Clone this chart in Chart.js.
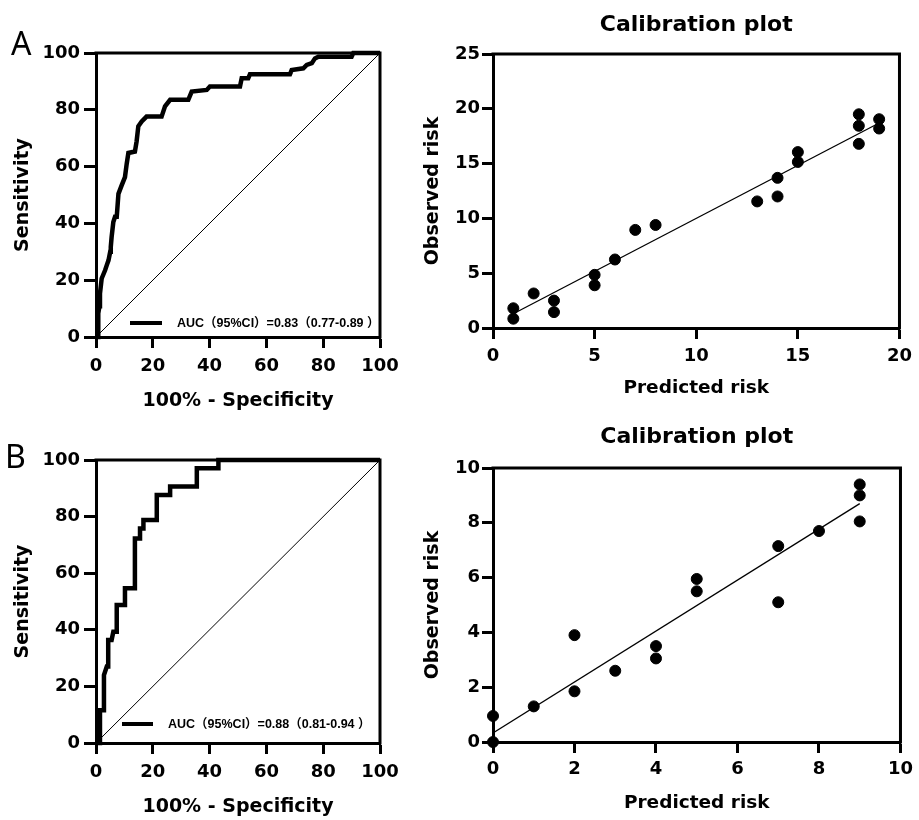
<!DOCTYPE html>
<html>
<head>
<meta charset="utf-8">
<title>ROC and calibration plots</title>
<script src="https://cdn.jsdelivr.net/npm/chart.js@4.4.0/dist/chart.umd.min.js"></script>
<style>
  body { margin: 0; background: #fff; }
  #fig { position: relative; width: 919px; height: 820px; overflow: hidden; background: #fff; }
  .box { position: absolute; }
  .tag { position: absolute; font-family: "Noto Sans", sans-serif; font-size: 32px; line-height: 1; color: #000; }
</style>
</head>
<body>
<div id="fig">
  <div class="box" style="left:0;top:0;width:410px;height:415px"><canvas id="rocA"></canvas></div>
  <div class="box" style="left:410px;top:0;width:509px;height:415px"><canvas id="calA"></canvas></div>
  <div class="box" style="left:0;top:415px;width:410px;height:405px"><canvas id="rocB"></canvas></div>
  <div class="box" style="left:410px;top:415px;width:509px;height:405px"><canvas id="calB"></canvas></div>
  <div class="tag" style="left:11px;top:27px">A</div>
  <div class="tag" style="left:5px;top:440px">B</div>
</div>
<script>
// ROC curves (100% - specificity vs sensitivity)
const rocTicks = [0, 20, 40, 60, 80, 100];
const diagonal = [0, 100];

const rocA_label = "AUC（95%CI）=0.83（0.77-0.89 ）";
const rocA_fpr = [0, 0.8, 0.8, 1.2, 1.4, 2.0, 3.2, 3.8, 4.4, 5.0, 5.2, 5.5, 6.1, 6.7, 7.3, 7.9, 9.0, 10.2, 10.8, 11.4,
  13.7, 14.3, 14.9, 16.1, 17.8, 23.1, 24.3, 26.1, 32.5, 33.7, 39.0, 40.1, 50.7, 51.3, 53.6, 54.2, 68.3, 68.9,
  73.0, 74.2, 76.0, 77.1, 78.3, 90.0, 90.6, 100];
const rocA_tpr = [0, 0, 8.3, 10.8, 15.3, 20.6, 23.5, 25.3, 27.0, 30.0, 31.7, 35.2, 40.5, 42.3, 42.3, 50.4, 53.3, 56.3, 60.9, 64.8,
  65.3, 68.9, 74.2, 75.9, 77.6, 77.6, 81.2, 83.5, 83.5, 86.4, 87.0, 88.2, 88.2, 91.1, 91.1, 92.5, 92.5, 94.0,
  94.6, 95.8, 96.4, 98.1, 98.7, 98.7, 100, 100];

const rocB_label = "AUC（95%CI）=0.88（0.81-0.94 ）";
const rocB_fpr = [0, 1.4, 1.4, 2.8, 2.8, 3.8, 4.3, 4.3, 5.5, 6.1, 7.3, 7.3, 10.2, 10.2, 13.7, 13.7, 15.5, 15.5,
  16.7, 16.7, 21.4, 21.4, 26.1, 26.1, 35.5, 35.5, 43.1, 43.1, 100];
const rocB_tpr = [0, 0, 11.6, 11.6, 24.0, 27.0, 27.0, 36.4, 36.4, 39.3, 39.3, 48.8, 48.8, 54.7, 54.7, 72.3, 72.3, 75.8,
  75.8, 78.8, 78.8, 87.6, 87.6, 90.6, 90.6, 97.1, 97.1, 100, 100];

// calibration, training set
const calA_pred = [1, 1, 2, 3, 3, 5, 5, 6, 7, 8, 13, 14, 14, 15, 15, 18, 18, 18, 19, 19];
const calA_obs = [1.8, 0.85, 3.15, 2.5, 1.45, 4.85, 3.9, 6.25, 8.95, 9.4, 11.55, 13.7, 12.0, 16.05, 15.15, 19.5, 18.45, 16.8, 19.05, 18.2];
const calA_fitX = [1, 19];
const calA_fitY = [1.3, 18.7];
const calA_xTicks = [0, 5, 10, 15, 20];
const calA_yTicks = [0, 5, 10, 15, 20, 25];

// calibration, validation set
const calB_pred = [0, 0, 1, 2, 2, 3, 4, 4, 5, 5, 7, 7, 8, 9, 9, 9];
const calB_obs = [0.95, 0, 1.3, 3.9, 1.85, 2.6, 3.5, 3.05, 5.95, 5.5, 7.15, 5.1, 7.7, 9.4, 9.0, 8.05];
const calB_fitX = [0, 9];
const calB_fitY = [0.33, 8.7];
const calB_xTicks = [0, 2, 4, 6, 8, 10];
const calB_yTicks = [0, 2, 4, 6, 8, 10];

Chart.defaults.font.family = "'DejaVu Sans', 'Liberation Sans', sans-serif";
Chart.defaults.font.weight = "bold";
Chart.defaults.color = "#000";

const pts = (xs, ys) => xs.map((x, i) => ({ x: x, y: ys[i] }));

function axis(ticks, o) {
  return {
    type: "linear",
    min: ticks[0],
    max: ticks[ticks.length - 1],
    afterBuildTicks: (s) => { s.ticks = ticks.map((v) => ({ value: v })); },
    afterFit: (s) => { if (s.isHorizontal()) s.height = o.size; else s.width = o.size; },
    grid: { display: true, drawOnChartArea: false, drawTicks: true, tickLength: o.tickLength, tickWidth: 3, tickColor: "#000" },
    border: { display: true, color: "#000", width: 3 },
    ticks: { color: "#000", padding: o.pad, font: { size: o.font, weight: "bold" } },
    title: { display: true, text: o.title, color: "#000", font: { size: o.titleSize, weight: "bold" }, padding: o.titlePad },
  };
}

// top and right edges of the box
const frame = {
  id: "frame",
  beforeDatasetsDraw(chart) {
    const { ctx, chartArea: a } = chart;
    ctx.save();
    ctx.strokeStyle = "#000";
    ctx.lineWidth = 3;
    ctx.beginPath();
    ctx.moveTo(a.left - 1.5, a.top);
    ctx.lineTo(a.right, a.top);
    ctx.lineTo(a.right, a.bottom + 1.5);
    ctx.stroke();
    ctx.restore();
  },
};

// legend drawn inside the plot, bottom right
const rocLegend = {
  id: "rocLegend",
  afterDatasetsDraw(chart, args, o) {
    const { ctx, chartArea: a } = chart;
    const ds = chart.data.datasets[0];
    const y = a.bottom - o.dy;
    ctx.save();
    ctx.strokeStyle = ds.borderColor;
    ctx.lineWidth = 4;
    ctx.beginPath();
    ctx.moveTo(a.left + o.x0, y);
    ctx.lineTo(a.left + o.x1, y);
    ctx.stroke();
    ctx.fillStyle = "#000";
    ctx.font = 'bold 12.5px "Liberation Sans", Arial, "Noto Sans CJK SC", sans-serif';
    ctx.textBaseline = "middle";
    ctx.fillText(ds.label, a.left + o.tx, y + 1);
    ctx.restore();
  },
};

function rocChart(id, label, fpr, tpr, lay) {
  new Chart(document.getElementById(id), {
    type: "scatter",
    data: {
      datasets: [
        { label: label, data: pts(fpr, tpr), showLine: true, borderColor: "#000", borderWidth: 4.5,
          pointRadius: 0, tension: 0, clip: false, borderJoinStyle: "miter" },
        { label: "reference", data: pts(diagonal, diagonal), showLine: true, borderColor: "#000",
          borderWidth: 1, pointRadius: 0 },
      ],
    },
    options: {
      responsive: true,
      maintainAspectRatio: false,
      animation: false,
      layout: { padding: { left: 10, top: lay.top, right: 30, bottom: 0 } },
      plugins: {
        legend: { display: false },
        tooltip: { enabled: false },
        rocLegend: lay.legend,
      },
      scales: {
        x: axis(rocTicks, { size: lay.xSize, tickLength: 11, pad: 8, font: 18, title: "100% - Specificity",
          titleSize: 19, titlePad: { top: 0, bottom: lay.xTitlePad } }),
        y: axis(rocTicks, { size: 86, tickLength: 12, pad: 4, font: 18, title: "Sensitivity",
          titleSize: 19, titlePad: { top: 2, bottom: 0 } }),
      },
    },
    plugins: [frame, rocLegend],
  });
}

function calChart(id, xs, ys, fx, fy, xTicks, yTicks, lay) {
  new Chart(document.getElementById(id), {
    type: "scatter",
    data: {
      datasets: [
        { label: "observed", data: pts(xs, ys), backgroundColor: "#000", borderColor: "#000",
          pointRadius: 5.5, pointHoverRadius: 5.5, clip: false },
        { label: "fit", data: pts(fx, fy), showLine: true, borderColor: "#000", borderWidth: 1.3, pointRadius: 0 },
      ],
    },
    options: {
      responsive: true,
      maintainAspectRatio: false,
      animation: false,
      layout: { padding: { left: 5, top: 0, right: 15, bottom: lay.bottom } },
      plugins: {
        legend: { display: false },
        tooltip: { enabled: false },
        title: { display: true, text: "Calibration plot", color: "#000", fullSize: false,
          font: { size: 22, weight: "bold" }, padding: lay.titlePad },
      },
      scales: {
        x: axis(xTicks, { size: lay.xSize, tickLength: 11, pad: lay.xPad, font: 18, title: "Predicted risk",
          titleSize: 18.5, titlePad: { top: 0, bottom: lay.xTitlePad } }),
        y: axis(yTicks, { size: 78, tickLength: 11, pad: 2, font: 18, title: "Observed risk",
          titleSize: 19, titlePad: { top: 6.6, bottom: 0 } }),
      },
    },
    plugins: [frame],
  });
}

rocChart("rocA", rocA_label, rocA_fpr, rocA_tpr,
  { top: 53, xSize: 78, xTitlePad: 3, legend: { x0: 34, x1: 66, tx: 81, dy: 14 } });
rocChart("rocB", rocB_label, rocB_fpr, rocB_tpr,
  { top: 45, xSize: 77, xTitlePad: 2, legend: { x0: 26, x1: 57, tx: 72, dy: 19 } });

calChart("calA", calA_pred, calA_obs, calA_fitX, calA_fitY, calA_xTicks, calA_yTicks,
  { bottom: 7, xSize: 80, xPad: 7, xTitlePad: 8.9, titlePad: { top: 12, bottom: 15.6 } });
calChart("calB", calB_pred, calB_obs, calB_fitX, calB_fitY, calB_xTicks, calB_yTicks,
  { bottom: 0, xSize: 78, xPad: 6, xTitlePad: 5.9, titlePad: { top: 9, bottom: 17.6 } });
</script>
</body>
</html>
